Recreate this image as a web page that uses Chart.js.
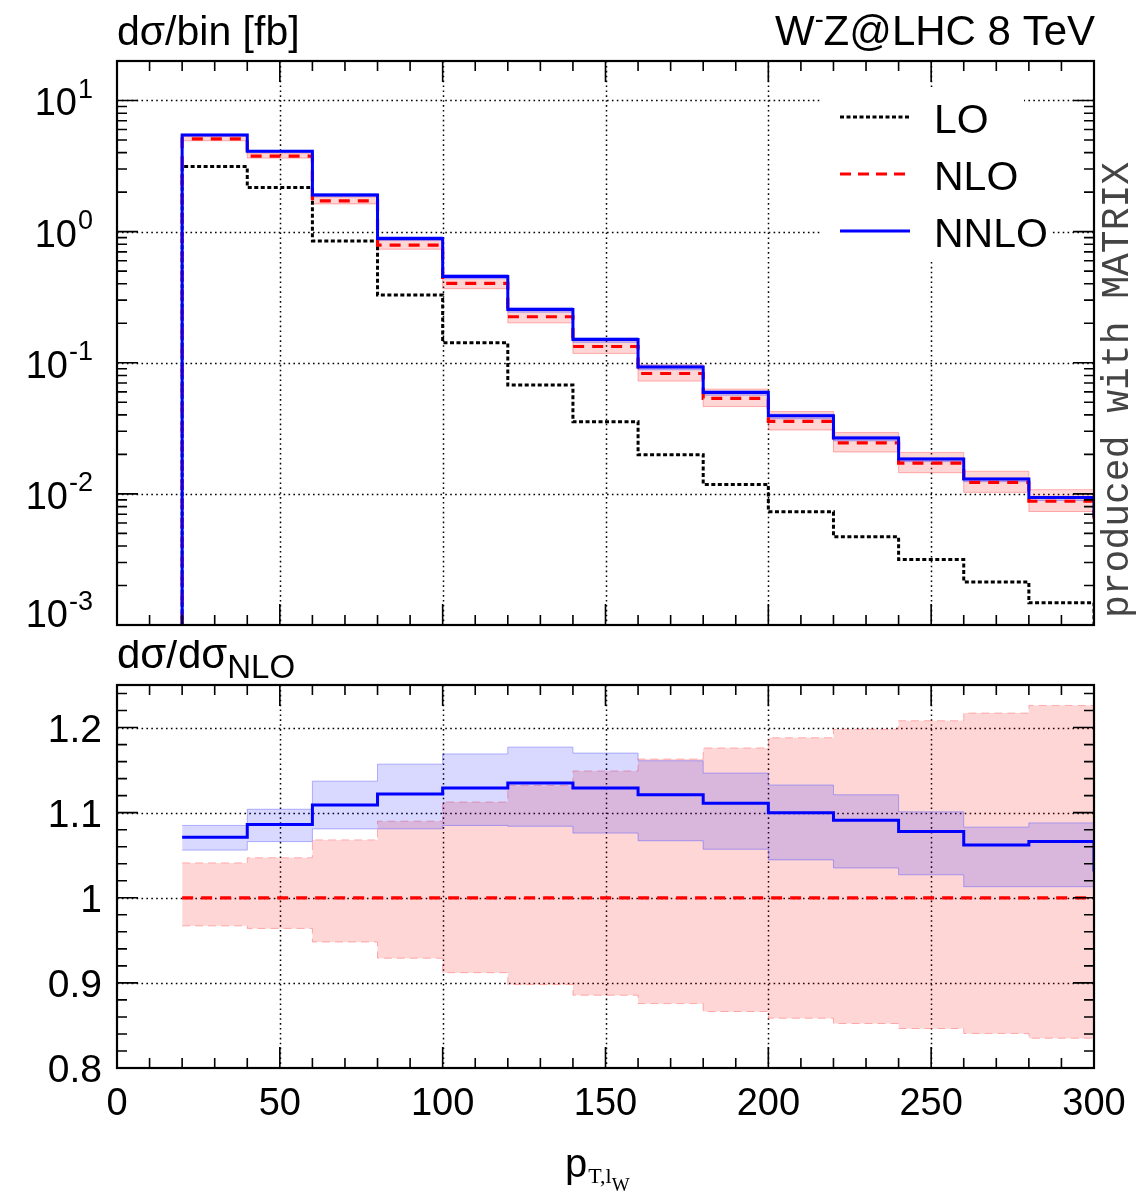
<!DOCTYPE html>
<html>
<head>
<meta charset="utf-8">
<script src="https://cdn.jsdelivr.net/npm/chart.js@4.4.1/dist/chart.umd.min.js"></script>
<style>
  body { margin: 0; background: #fff; }
  #wrap { position: relative; width: 1140px; height: 1200px; }
  canvas { position: absolute; left: 0; }
  #top { top: 0; }
  #bot { top: 640px; }
</style>
</head>
<body>
<div id="wrap">
  <canvas id="top" width="1140" height="660"></canvas>
  <canvas id="bot" width="1140" height="560"></canvas>
</div>
<script>
// bin edges in p_T,lW
const binEdges = [20, 40, 60, 80, 100, 120, 140, 160, 180, 200, 220, 240, 260, 280, 300];

// d sigma / bin [fb]
const sigmaLO   = [3.13, 2.17, 0.849, 0.329, 0.142, 0.0676, 0.0355, 0.0199, 0.0118, 0.0073, 0.0047, 0.00316, 0.00213, 0.00148];
const sigmaNLO  = [5.10, 3.77, 1.716, 0.790, 0.4026, 0.2243, 0.1330, 0.08277, 0.05348, 0.03577, 0.02449, 0.01713, 0.01222, 0.008787];
const sigmaNNLO = [5.46, 4.10, 1.903, 0.886, 0.4545, 0.2546, 0.1502, 0.0928, 0.0594, 0.03935, 0.02672, 0.01847, 0.01298, 0.009367];
const nloBandLo  = [4.932, 3.634, 1.627, 0.7339, 0.3672, 0.2014, 0.1178, 0.07248, 0.04633, 0.03071, 0.02087, 0.01450, 0.01027, 0.007337];
const nloBandHi  = [5.309, 3.947, 1.833, 0.861, 0.4479, 0.2539, 0.1528, 0.09626, 0.06289, 0.04249, 0.02934, 0.02069, 0.01487, 0.01077];
const nnloBandLo = [5.386, 4.019, 1.855, 0.854, 0.4368, 0.2431, 0.1431, 0.08832, 0.05653, 0.03736, 0.02535, 0.01759, 0.01238, 0.00890];
const nnloBandHi = [5.534, 4.162, 1.951, 0.914, 0.4706, 0.2640, 0.1556, 0.09610, 0.06131, 0.04051, 0.02745, 0.01886, 0.01323, 0.00956];
// next bin past 300 (only its left edge is visible)
const nextLO = 0.0009, nextNLO = 0.00647, nextNNLO = 0.00667;

// ratio to NLO
const ratioNLO    = [1, 1, 1, 1, 1, 1, 1, 1, 1, 1, 1, 1, 1, 1];
const ratioNNLO   = [1.071, 1.086, 1.109, 1.122, 1.129, 1.135, 1.129, 1.121, 1.111, 1.100, 1.091, 1.078, 1.062, 1.066];
const ratioNNLOLo = [1.056, 1.066, 1.081, 1.081, 1.085, 1.084, 1.076, 1.067, 1.057, 1.0445, 1.035, 1.027, 1.013, 1.013];
const ratioNNLOHi = [1.085, 1.104, 1.137, 1.157, 1.169, 1.177, 1.170, 1.161, 1.1465, 1.1325, 1.121, 1.101, 1.083, 1.088];
const ratioNLOLo  = [0.967, 0.964, 0.948, 0.929, 0.912, 0.898, 0.8855, 0.8757, 0.8664, 0.8585, 0.8523, 0.8464, 0.8406, 0.835];
const ratioNLOHi  = [1.041, 1.047, 1.068, 1.090, 1.1125, 1.132, 1.149, 1.163, 1.176, 1.188, 1.198, 1.208, 1.217, 1.226];
const nextRatioNNLO = 1.031;

// axis labels
const xTickVals = [0, 50, 100, 150, 200, 250, 300];
const xGridVals = [50, 100, 150, 200, 250];
const topExponents = [1, 0, -1, -2, -3];
const ratioTickVals = [0.8, 0.9, 1, 1.1, 1.2];
const ratioTickLabels = ['0.8', '0.9', '1', '1.1', '1.2'];

const SANS = "'Liberation Sans', Arial, Helvetica, sans-serif";
const SERIF = "'Liberation Serif', 'Times New Roman', serif";
const MONO = "'Liberation Mono', 'Courier New', monospace";

// histogram points: left edge of every bin, closing point at 300
function steps(vals, start, next) {
  const pts = [];
  if (start !== undefined) pts.push({ x: binEdges[0], y: start });
  vals.forEach((v, i) => pts.push({ x: binEdges[i], y: v }));
  const last = binEdges[vals.length];
  if (next !== undefined) {
    pts.push({ x: last, y: next });
    pts.push({ x: last + 20, y: next });
  } else {
    pts.push({ x: last, y: vals[vals.length - 1] });
  }
  return pts;
}

const base = { stepped: 'before', pointRadius: 0, fill: false, tension: 0 };
const pinkFill = 'rgba(255, 0, 0, 0.16)';
const blueFill = 'rgba(0, 0, 255, 0.15)';
const pinkEdge = 'rgba(255, 90, 90, 0.45)';
const blueEdge = 'rgba(90, 90, 255, 0.45)';

function ln(ctx, x1, y1, x2, y2) { ctx.moveTo(x1, y1); ctx.lineTo(x2, y2); }

function drawGrid(chart, yVals) {
  const { ctx, chartArea: a, scales: { x, y } } = chart;
  ctx.save();
  ctx.strokeStyle = '#000';
  ctx.lineWidth = 1.5;
  ctx.setLineDash([1.6, 3.3]);
  ctx.beginPath();
  xGridVals.forEach(v => {
    const px = Math.round(x.getPixelForValue(v)) + 0.5;
    ln(ctx, px, a.top, px, a.bottom);
  });
  yVals.forEach(v => {
    const py = Math.round(y.getPixelForValue(v)) + 0.5;
    ln(ctx, a.left, py, a.right, py);
  });
  ctx.stroke();
  ctx.restore();
}

function drawFrame(chart, yTicks) {
  const { ctx, chartArea: a, scales: { x, y } } = chart;
  ctx.save();
  ctx.strokeStyle = '#000';
  ctx.lineWidth = 1.6;
  ctx.setLineDash([]);
  ctx.beginPath();
  for (let v = 10; v < 300; v += 10) {
    const px = x.getPixelForValue(v);
    const len = v % 50 === 0 ? 21 : 10;
    ln(ctx, px, a.top, px, a.top + len);
    ln(ctx, px, a.bottom, px, a.bottom - len);
  }
  yTicks.forEach(t => {
    const py = y.getPixelForValue(t.v);
    const len = t.major ? 21 : 10;
    ln(ctx, a.left, py, a.left + len, py);
    ln(ctx, a.right, py, a.right - len, py);
  });
  ctx.stroke();
  ctx.lineWidth = 2.2;
  ctx.strokeRect(a.left, a.top, a.right - a.left, a.bottom - a.top);
  ctx.restore();
}

function text(ctx, str, x, y, font, align) {
  ctx.font = font;
  ctx.textAlign = align || 'left';
  ctx.textBaseline = 'alphabetic';
  ctx.fillText(str, x, y);
  return ctx.measureText(str).width;
}

const logTicks = [];
for (let e = -3; e <= 1; e++) {
  for (let k = 1; k <= 9; k++) {
    const v = k * Math.pow(10, e);
    if (v > 1.0001e-3 && v < 19.9) logTicks.push({ v, major: k === 1 });
  }
}
const ratioTicks = [];
for (let i = 41; i <= 62; i++) ratioTicks.push({ v: i / 50, major: i % 5 === 0 });

const legendItems = [
  { label: 'LO', color: '#000', width: 3, dash: [4, 2.5], y: 117 },
  { label: 'NLO', color: '#ff0000', width: 3.2, dash: [11, 7], y: 174 },
  { label: 'NNLO', color: '#0000ff', width: 3, dash: [], y: 231 }
];

const topDecor = {
  id: 'topDecor',
  beforeDraw(chart) {
    drawGrid(chart, [1e-2, 1e-1, 1, 10]);
  },
  afterDraw(chart) {
    const { ctx, chartArea: a, scales: { y } } = chart;
    ctx.save();
    ctx.fillStyle = '#000';

    // legend
    ctx.font = '41px ' + SANS;
    legendItems.forEach(it => {
      const w = ctx.measureText(it.label).width;
      ctx.fillStyle = '#fff';
      ctx.fillRect(820, it.y - 29, Math.max(1024, 934 + w + 2) - 820, 58);
    });
    legendItems.forEach(it => {
      ctx.strokeStyle = it.color;
      ctx.lineWidth = it.width;
      ctx.setLineDash(it.dash);
      ctx.beginPath();
      ln(ctx, 840, it.y, 910, it.y);
      ctx.stroke();
      ctx.fillStyle = '#000';
      text(ctx, it.label, 934, it.y + 16, '41px ' + SANS);
    });
    ctx.setLineDash([]);

    drawFrame(chart, logTicks);

    // y tick labels 10^n
    ctx.fillStyle = '#000';
    topExponents.forEach(e => {
      const py = y.getPixelForValue(Math.pow(10, e));
      const bl = Math.min(py + 15, a.bottom + 2);
      ctx.font = '27px ' + SANS;
      const sw = ctx.measureText(String(e)).width;
      text(ctx, String(e), 93 - sw, bl - 17.5, '27px ' + SANS);
      text(ctx, '10', 93 - sw - 1, bl, '38px ' + SANS, 'right');
    });

    // titles
    text(ctx, 'd\u03c3/bin [fb]', 117, 45, '41px ' + SANS);
    ctx.font = '42px ' + SANS;
    const rest = 'Z@LHC 8 TeV';
    const wRest = ctx.measureText(rest).width;
    const wW = ctx.measureText('W').width;
    ctx.font = '27px ' + SANS;
    const wM = ctx.measureText('-').width;
    const x0 = 1095 - wRest - wM - wW;
    text(ctx, 'W', x0, 45, '42px ' + SANS);
    text(ctx, '-', x0 + wW, 28, '27px ' + SANS);
    text(ctx, rest, x0 + wW + wM, 45, '42px ' + SANS);

    // side note
    ctx.save();
    ctx.translate(1128, 618);
    ctx.rotate(-Math.PI / 2);
    ctx.fillStyle = '#444';
    text(ctx, 'produced with MATRIX', 0, 0, '38px ' + MONO);
    ctx.restore();

    ctx.restore();
  }
};

const botDecor = {
  id: 'botDecor',
  beforeDraw(chart) {
    drawGrid(chart, [0.9, 1.0, 1.1, 1.2]);
  },
  afterDraw(chart) {
    const { ctx, chartArea: a, scales: { x, y } } = chart;
    ctx.save();
    drawFrame(chart, ratioTicks);
    ctx.fillStyle = '#000';
    ratioTickVals.forEach((v, i) => {
      text(ctx, ratioTickLabels[i], 102, y.getPixelForValue(v) + 14, '39px ' + SANS, 'right');
    });
    xTickVals.forEach(v => {
      text(ctx, String(v), x.getPixelForValue(v), a.bottom + 47, '38px ' + SANS, 'center');
    });
    // panel title
    const w = text(ctx, 'd\u03c3/d\u03c3', 117, 28, '42px ' + SANS);
    text(ctx, 'NLO', 117 + w, 38, '33px ' + SANS);
    // x axis title
    const wp = text(ctx, 'p', 565, a.bottom + 109, '40px ' + SANS);
    const wt = text(ctx, 'T,l', 565 + wp + 1, a.bottom + 115, '22px ' + SERIF);
    text(ctx, 'W', 565 + wp + 1 + wt, a.bottom + 123, '19px ' + SERIF);
    ctx.restore();
  }
};

new Chart(document.getElementById('top'), {
  type: 'line',
  data: {
    datasets: [
      { ...base, data: steps(sigmaNNLO, 1e-4, nextNNLO), borderColor: '#0000ff', borderWidth: 3 },
      { ...base, data: steps(sigmaNLO, 1e-4, nextNLO), borderColor: '#ff0000', borderWidth: 3.2, borderDash: [11, 8] },
      { ...base, data: steps(sigmaLO, 1e-4, nextLO), borderColor: '#000', borderWidth: 3, borderDash: [4, 2.5] },
      { ...base, data: steps(nnloBandHi), fill: '+1', backgroundColor: blueFill, borderColor: blueEdge, borderWidth: 1 },
      { ...base, data: steps(nnloBandLo), borderColor: blueEdge, borderWidth: 1 },
      { ...base, data: steps(nloBandHi), fill: '+1', backgroundColor: pinkFill, borderColor: pinkEdge, borderWidth: 1 },
      { ...base, data: steps(nloBandLo), borderColor: pinkEdge, borderWidth: 1 }
    ]
  },
  options: {
    responsive: false,
    animation: false,
    devicePixelRatio: 1,
    layout: { padding: { left: 117, right: 46, top: 61, bottom: 35 } },
    scales: {
      x: { type: 'linear', min: 0, max: 300, display: false },
      y: { type: 'logarithmic', min: 1e-3, max: 20, display: false }
    },
    plugins: { legend: { display: false }, tooltip: { enabled: false } }
  },
  plugins: [topDecor]
});

new Chart(document.getElementById('bot'), {
  type: 'line',
  data: {
    datasets: [
      { ...base, data: steps(ratioNNLO, undefined, nextRatioNNLO), borderColor: '#0000ff', borderWidth: 3 },
      { ...base, data: steps(ratioNLO), borderColor: '#ff0000', borderWidth: 3.2, borderDash: [11, 8] },
      { ...base, data: steps(ratioNNLOHi), fill: '+1', backgroundColor: blueFill, borderColor: blueEdge, borderWidth: 1 },
      { ...base, data: steps(ratioNNLOLo), borderColor: blueEdge, borderWidth: 1 },
      { ...base, data: steps(ratioNLOHi), fill: '+1', backgroundColor: pinkFill, borderColor: pinkEdge, borderWidth: 1, borderDash: [8, 5] },
      { ...base, data: steps(ratioNLOLo), borderColor: pinkEdge, borderWidth: 1, borderDash: [8, 5] }
    ]
  },
  options: {
    responsive: false,
    animation: false,
    devicePixelRatio: 1,
    layout: { padding: { left: 117, right: 46, top: 45, bottom: 132 } },
    scales: {
      x: { type: 'linear', min: 0, max: 300, display: false },
      y: { type: 'linear', min: 0.8, max: 1.25, display: false }
    },
    plugins: { legend: { display: false }, tooltip: { enabled: false } }
  },
  plugins: [botDecor]
});
</script>
</body>
</html>
